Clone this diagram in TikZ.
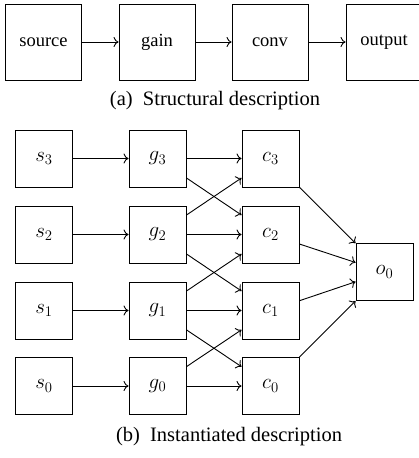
\RequirePackage{fix-cm}
\documentclass[tikz,border=0pt]{standalone}
\usepackage{fontspec}
\setmainfont{Liberation Serif}
\usetikzlibrary{arrows.meta}
\begin{document}
\begin{tikzpicture}[x=1pt,y=-1pt,
  every path/.style={line width=0.9pt},
  bigbox/.style={draw, line width=0.9pt, minimum width=76pt, minimum height=76pt,
    inner sep=0pt, font=\fontsize{18.5}{22}\selectfont},
  smallbox/.style={draw, line width=0.9pt, minimum width=57pt, minimum height=57pt,
    inner sep=0pt, font=\fontsize{21}{24}\selectfont},
  link/.style={-{To[length=5pt,width=10pt]}, line width=0.9pt},
  caption/.style={font=\fontsize{20.5}{24}\selectfont, inner sep=0pt}]
\useasboundingbox (0,0) rectangle (418,458);

% structural pipeline
\node[bigbox] (source) at (43.5,42) {source};
\node[bigbox] (gain)   at (157,42)  {gain};
\node[bigbox] (conv)   at (270,42)  {conv};
\node[bigbox] (output) at (384,42)  {output};
\draw[link] (source) -- (gain);
\draw[link] (gain) -- (conv);
\draw[link] (conv) -- (output);
\node[caption] (capa) at (215,101) {(a)\enspace Structural description};

% instantiated network
\foreach \i/\y in {3/158.5, 2/234.5, 1/310.5, 0/386} {
  \node[smallbox] (s\i) at (44,\y)    {$s_\i$};
  \node[smallbox] (g\i) at (157.5,\y) {$g_\i$};
  \node[smallbox] (c\i) at (270.5,\y) {$c_\i$};
}
\node[smallbox] (o0) at (384.5,272) {$o_0$};

\foreach \i in {0,...,3} {
  \draw[link] (s\i) -- (g\i);
  \draw[link] (g\i) -- (c\i);
  \draw[link] (c\i) -- (o0);
}
\draw[link] (g3) -- (c2);
\draw[link] (g2) -- (c3);
\draw[link] (g2) -- (c1);
\draw[link] (g1) -- (c2);
\draw[link] (g1) -- (c0);
\draw[link] (g0) -- (c1);
\node[caption] (capb) at (229,437) {(b)\enspace Instantiated description};
\end{tikzpicture}
\end{document}
